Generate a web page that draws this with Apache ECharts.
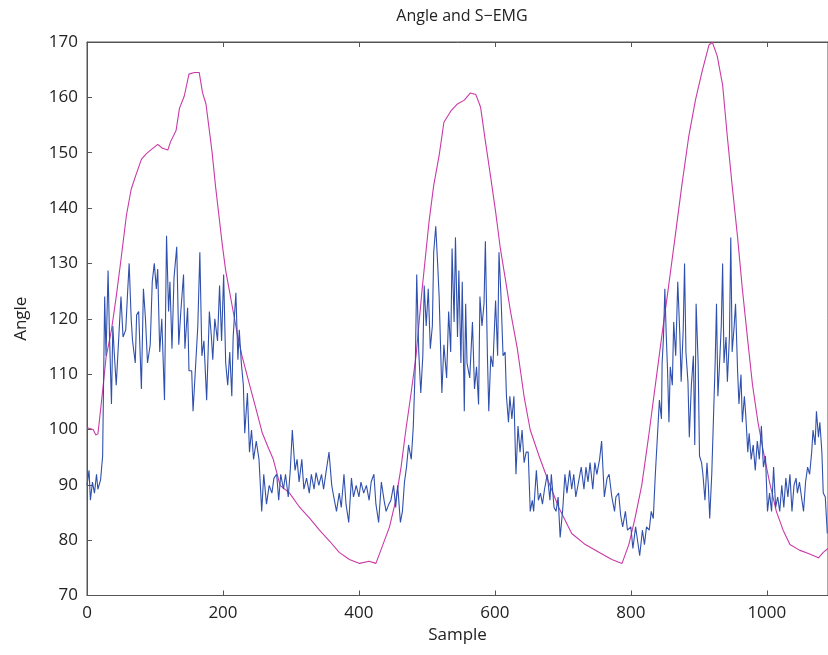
<!DOCTYPE html>
<html>
<head>
<meta charset="utf-8">
<script src="https://cdn.jsdelivr.net/npm/echarts@6/dist/echarts.min.js"></script>
<style>
  html, body { margin: 0; padding: 0; background: #fff; }
  #chart { width: 828px; height: 655px; }
</style>
</head>
<body>
<div id="chart"></div>
<script>
// 角度曲线（采样点 / 角度）
const angleX = [0, 9, 13, 16, 18, 23, 28, 36, 43, 50, 58, 65, 72, 80, 87, 94, 104, 111, 119, 123, 131, 136, 143, 150, 158, 165, 170, 175, 180, 184, 189, 194, 199, 204, 209, 214, 221, 228, 238, 248, 258, 267, 274, 284, 298, 313, 328, 342, 357, 371, 386, 401, 415, 425, 435, 445, 454, 462, 469, 476, 484, 493, 503, 510, 518, 525, 535, 545, 555, 564, 572, 579, 586, 594, 601, 608, 616, 623, 633, 643, 652, 665, 679, 694, 713, 733, 753, 772, 787, 797, 806, 816, 826, 836, 846, 855, 865, 875, 885, 895, 905, 915, 920, 927, 935, 942, 949, 957, 964, 972, 979, 987, 994, 1004, 1014, 1024, 1034, 1048, 1063, 1076, 1083, 1090]
const angleY = [100.3, 100, 99, 99.2, 101.3, 107, 113, 118, 124, 130.7, 138.7, 143.4, 146, 148.8, 149.8, 150.5, 151.5, 150.8, 150.5, 152, 154, 158, 160.2, 164.2, 164.5, 164.5, 160.8, 158.8, 154, 150.1, 144, 138.7, 133.4, 128.7, 125.4, 122, 117.3, 113.3, 108.6, 104, 99.3, 96.6, 94.6, 89.9, 88.5, 85.9, 83.9, 81.8, 79.8, 77.8, 76.5, 75.8, 76.2, 75.8, 79.1, 82.4, 87.1, 93.2, 99.9, 105.9, 113.3, 125.4, 137.4, 144.1, 149.5, 155.5, 157.5, 158.8, 159.5, 160.8, 160.5, 158.2, 152.1, 145.4, 139.4, 132.7, 126.7, 121.3, 114.6, 105.9, 99.9, 95.2, 90.5, 85.9, 81.2, 79.2, 77.8, 76.5, 75.8, 79.2, 83.9, 89.9, 98.6, 108, 117.3, 125.4, 134.7, 144.1, 152.8, 159.5, 164.8, 169.5, 169.9, 167.5, 162.2, 152.8, 144.1, 134.7, 125.4, 116, 108, 101.3, 96.6, 90.5, 85.2, 81.8, 79.2, 78.2, 77.5, 76.8, 77.8, 78.5]

// 肌电信号（采样点 / 幅值）
const emgX = [0, 3, 5, 8, 11, 14, 16, 20, 23, 26, 28, 31, 33, 36, 38, 40, 43, 47, 50, 53, 57, 60, 62, 65, 67, 71, 73, 76, 80, 83, 86, 89, 93, 96, 99, 102, 104, 107, 110, 114, 117, 120, 122, 125, 128, 132, 135, 138, 142, 144, 148, 150, 154, 156, 160, 163, 166, 169, 172, 176, 180, 183, 185, 188, 192, 195, 198, 201, 204, 207, 210, 213, 215, 219, 222, 224, 227, 230, 232, 236, 239, 242, 245, 249, 253,
  257, 260, 264, 268, 272, 275, 279, 282, 285, 289, 292, 296, 299, 302, 306, 309, 312, 316, 319, 323, 327, 330, 334, 337, 341, 345, 348, 352, 356, 360, 363, 367, 371, 374, 378, 381, 385, 389, 392, 396, 400, 403, 407, 411, 415, 418, 422, 425, 429, 433, 437, 440, 444, 447, 451, 454, 457, 461, 464, 467, 470, 473, 477, 480, 483, 485, 488, 491, 494, 496, 499, 502, 505, 508, 510, 513, 516,
  518, 522, 525, 529, 532, 535, 537, 540, 542, 545, 547, 550, 552, 555, 557, 559, 563, 567, 570, 573, 576, 578, 581, 584, 586, 589, 591, 594, 597, 601, 604, 606, 609, 612, 615, 617, 620, 622, 625, 628, 631, 634, 637, 640, 643, 646, 649, 652, 655, 657, 661, 664, 667, 670, 673, 677, 681, 683, 687, 690, 693, 696, 700, 703, 706, 710, 713, 716, 719, 723, 727, 731, 734, 737, 740, 744, 747, 750, 754, 757, 761, 765, 768, 772, 776, 778, 782, 785, 788, 792, 795,
  800, 803, 807, 810, 813, 817, 820, 823, 827, 830, 833, 836, 839, 842, 845, 846, 848, 850, 852, 854, 856, 858, 861, 863, 866, 869, 872, 874, 877, 879, 881, 884, 886, 889, 892, 894, 896, 899, 901, 904, 906, 909, 912, 914, 916, 919, 921, 924, 926, 928, 930, 933, 935, 937, 940, 942, 945, 947, 949, 952, 954, 957, 959, 962, 964, 967, 969, 972, 974, 977, 980, 983, 986, 989, 992, 995, 998, 1001, 1004, 1007, 1010, 1013, 1016, 1019, 1022, 1025, 1028, 1031, 1034, 1037, 1040, 1043, 1045, 1048, 1051, 1054, 1057, 1060, 1063, 1066, 1068, 1071, 1073, 1076, 1078, 1081, 1083, 1086, 1089]
const emgY = [89.9, 92.6, 87.2, 90.5, 88.5, 91.9, 89.2, 90.9, 95.2, 124, 113.3, 128.7, 117.3, 104.6, 118.7, 114, 108, 117.3, 124, 116.7, 118, 125.4, 130, 120, 116, 112, 120.7, 121.3, 107.3, 125.4, 120, 112, 115.3, 126.7, 130, 125.4, 129, 114, 120, 105.3, 135, 121.3, 126.7, 114.6, 127.4, 133, 115.3, 121.3, 128, 114.6, 122, 110.6, 110.6, 103.3, 112, 118.7, 132, 113.3, 116, 105.3, 121.3, 116.7, 112.6, 120, 116, 126, 116, 128, 112, 108, 114, 106, 116.7, 124.7, 112.6, 118, 112, 108, 99.3, 106.6, 95.9, 99.9, 94.6, 97.9, 94.6,
  85.2, 91.9, 86.5, 89.9, 88.5, 91.2, 91.9, 87.2, 91.9, 89.2, 91.9, 87.8, 92.6, 99.9, 92.6, 94.6, 90.5, 94.6, 89.2, 91.2, 88.5, 91.9, 89.2, 92.2, 89.9, 91.9, 89.2, 92.6, 95.9, 89.9, 87.8, 85.2, 88.5, 85.9, 91.9, 86.5, 83.2, 91.2, 87.8, 89.9, 87.8, 90.5, 88.5, 89.9, 87.2, 90.5, 91.9, 86.5, 83.2, 90.5, 87.2, 85.2, 86.5, 87.2, 89.9, 85.9, 89.9, 83.2, 85.2, 90.5, 93.2, 97.2, 94.6, 100.6, 112, 128, 114, 106.6, 113.3, 126, 118.7, 125.4, 114.6, 118.7, 132, 136.7, 129.4,
  124, 106.6, 115.3, 109.3, 121.3, 114, 132.7, 119.4, 134.7, 116.7, 128.7, 112, 126.7, 103.3, 122.7, 112, 109.3, 119.4, 107.3, 111.3, 104.5, 124, 118.7, 122.7, 134, 113.3, 103.3, 113.3, 111.3, 123.3, 113.3, 132, 124, 113.3, 114, 106, 101.3, 106, 101.9, 106, 91.9, 100.6, 95.9, 99.9, 94, 95.9, 95.9, 85.2, 87.2, 85.2, 92.6, 87.2, 88.5, 86.5, 89.2, 91.9, 87.2, 91.9, 85.9, 85.2, 87.8, 80.5, 85.9, 91.9, 88.5, 92.6, 89.2, 91.9, 87.8, 90.5, 93.2, 89.2, 93.2, 90.5, 94, 89.2, 94, 91.9, 94.6, 97.9, 87.8, 91.2, 91.9, 87.8, 85.2, 87.8, 88.5, 84.5, 82.4, 85.2, 81.8,
  82.4, 78.5, 82.4, 79.8, 77.2, 81.8, 79.2, 82.4, 81.8, 85.2, 83.9, 91.9, 98.6, 105.3, 101.9, 112, 116.7, 125.4, 117.3, 110.6, 101.3, 111.3, 108, 119.4, 113.3, 126.7, 117.3, 108.6, 118, 130, 114, 108.6, 98.6, 108, 113.3, 97.2, 122.7, 112, 95.2, 94, 91.9, 87.2, 94, 89.9, 83.9, 91.9, 99.9, 112, 122.7, 106, 110.6, 118.7, 130, 112, 116.7, 108.6, 116.7, 134.7, 114, 118.7, 122.7, 110.6, 104.6, 109.9, 101.3, 106, 102.6, 95.9, 99.3, 94.6, 97.2, 92.6, 97.9, 94.6, 100.6, 93.2, 95.2, 85.2, 88.5, 85.2, 93.2, 85.9, 87.8, 85.2, 89.9, 85.9, 91.2, 87.8, 91.9, 85.2, 89.9, 91.2, 88.5, 90.5, 87.8, 85.2, 90.5, 93.2, 91.9, 95.9, 99.9, 97.2, 103.3, 98.6, 101.3, 95.9, 88.5, 87.8, 81.2]

// 坐标轴刻度
const xStep = 200
const xMax = 1090
const yMin = 70
const yMax = 170
const yStep = 10

const zip = (xs, ys) => xs.map((x, i) => [x, ys[i]])

const chart = echarts.init(document.getElementById('chart'), null, { renderer: 'canvas' })

const axisFont = { fontFamily: 'Open Sans', fontSize: 17, color: '#222' }

chart.setOption({
  animation: false,
  title: {
    text: 'Angle and S\u2212EMG',
    left: 457,
    top: 3,
    textAlign: 'center',
    textStyle: { fontFamily: 'Open Sans', fontSize: 16, fontWeight: 'normal', color: '#222' }
  },
  grid: {
    left: 87, top: 42, right: 0, bottom: 59.5,
    show: true, borderColor: '#555', borderWidth: 1, backgroundColor: '#fff'
  },
  xAxis: [{
    type: 'value',
    min: 0, max: xMax, interval: xStep,
    name: 'Sample', nameLocation: 'middle', nameGap: 28,
    nameTextStyle: axisFont,
    axisLine: { show: true, lineStyle: { color: '#555' } },
    axisTick: { show: true, inside: true, length: 5, lineStyle: { color: '#555' } },
    axisLabel: Object.assign({ margin: 9, showMaxLabel: false, formatter: v => String(v) }, axisFont),
    splitLine: { show: false }
  }, {
    type: 'value',
    position: 'top',
    min: 0, max: xMax, interval: xStep,
    axisLine: { show: true, lineStyle: { color: '#555' } },
    axisTick: { show: true, inside: true, length: 5, lineStyle: { color: '#555' } },
    axisLabel: { show: false },
    splitLine: { show: false }
  }],
  yAxis: {
    type: 'value',
    min: yMin, max: yMax, interval: yStep,
    name: 'Angle', nameLocation: 'middle', nameGap: 57,
    nameTextStyle: axisFont,
    axisLine: { show: true, lineStyle: { color: '#555' } },
    axisTick: { show: true, inside: true, length: 5, lineStyle: { color: '#555' } },
    axisLabel: Object.assign({ margin: 9 }, axisFont),
    splitLine: { show: false }
  },
  series: [{
    name: 'Angle',
    type: 'line',
    data: zip(angleX, angleY),
    showSymbol: false,
    lineStyle: { width: 1.1, color: '#c93aa8' },
    itemStyle: { color: '#c93aa8' },
    z: 2
  }, {
    name: 'S-EMG',
    type: 'line',
    data: zip(emgX, emgY),
    showSymbol: false,
    lineStyle: { width: 1.1, color: '#3050ad' },
    itemStyle: { color: '#3050ad' },
    z: 3
  }]
})
</script>
</body>
</html>
